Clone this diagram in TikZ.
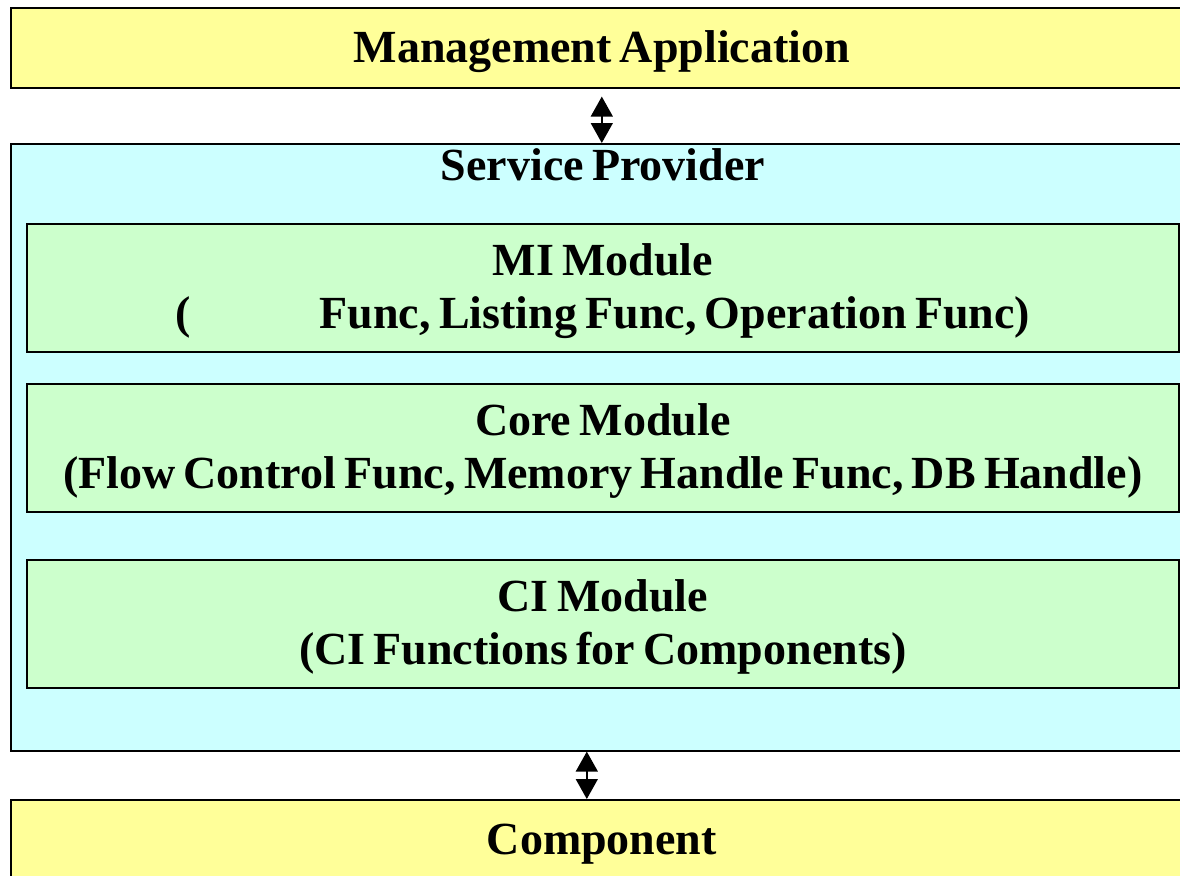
\documentclass[tikz,border=0pt]{standalone}
\usepackage{fontspec}
\setmainfont{Liberation Serif}
\usetikzlibrary{arrows.meta}
\definecolor{appyellow}{HTML}{FFFF99}
\definecolor{provcyan}{HTML}{CCFFFF}
\definecolor{modgreen}{HTML}{CCFFCC}
\newcommand\boxfont{\fontsize{46}{53}\selectfont\bfseries\spaceskip=8.3pt plus 3pt minus 2pt\relax}
\tikzset{
  bigtext/.style={font=\boxfont,align=center,yshift=-3.5pt},
  appbox/.style={draw=black,line width=1.6pt,fill=appyellow,anchor=north west,
    minimum width=1182pt,minimum height=80pt,inner sep=0pt},
  provbox/.style={draw=black,line width=1.6pt,fill=provcyan,anchor=north west,
    minimum width=1182pt,minimum height=607pt,inner sep=0pt},
  modbox/.style={draw=black,line width=1.6pt,fill=modgreen,anchor=north west,
    minimum width=1152pt,minimum height=128pt,inner sep=0pt},
  updown/.style={{Triangle[width=22pt,length=20pt]}-{Triangle[width=22pt,length=20pt]},line width=1.5pt}
}
\begin{document}
\begin{tikzpicture}[x=1pt,y=-1pt]
\useasboundingbox (0,0) rectangle (1180,875);
\clip (0,0) rectangle (1180,875);
% top and bottom
\node[appbox,label={[bigtext]center:Management Application}] (mgmt) at (10,7) {};
\node[appbox,minimum height=82pt,label={[bigtext]center:Component}] (comp) at (10,799) {};
% service provider with its modules
\node[provbox] (sp) at (10,143) {};
\node[bigtext] (sptitle) at (603,161) {Service Provider};
\node[modbox,label={[bigtext]center:{MI Module\\(\hspace{129pt}Func, Listing Func, Operation Func)}}] (mi) at (26,223) {};
\node[modbox,label={[bigtext]center:{Core Module\\(Flow Control Func, Memory Handle Func, DB Handle)}}] (core) at (26,383) {};
\node[modbox,label={[bigtext]center:{CI Module\\(CI Functions for Components)}}] (ci) at (26,559) {};
% links
\draw[updown,shorten <=8pt] (mgmt.south) -- (mgmt.south |- sp.north);
\draw[updown] ([xshift=-15pt]sp.south) -- ([xshift=-15pt]sp.south |- comp.north);
\end{tikzpicture}
\end{document}
